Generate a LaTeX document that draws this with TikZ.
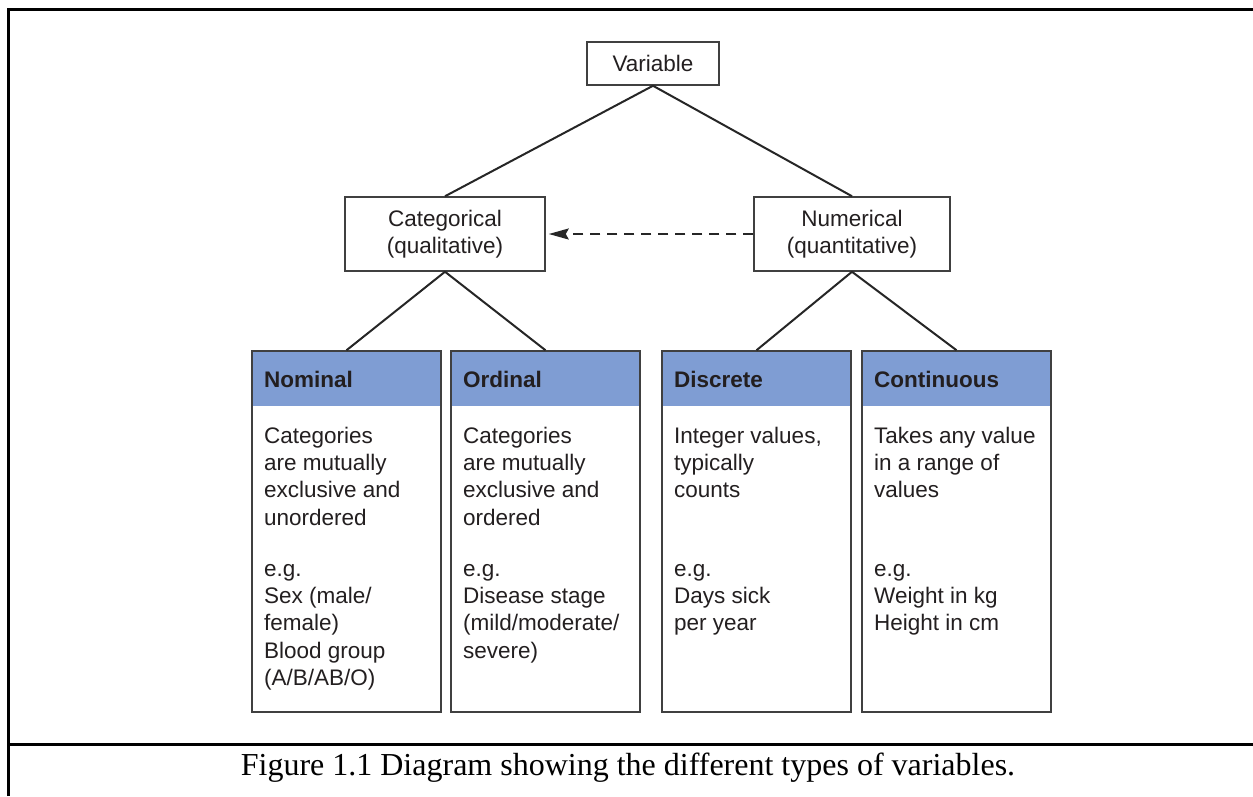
\documentclass[tikz,border=0pt]{standalone}
\usepackage{fontspec}
\setmainfont{Liberation Serif}
\setsansfont{Liberation Sans}
\usetikzlibrary{arrows.meta}
\definecolor{hdr}{RGB}{127,157,211}
\definecolor{ink}{RGB}{35,31,32}
\definecolor{edgegray}{RGB}{64,64,64}
\newcommand{\linesT}[1]{\begin{tabular}[t]{@{}l@{}}#1\end{tabular}}
\begin{document}
\begin{tikzpicture}[x=1pt,y=-1pt,
  box/.style={draw=edgegray,line width=1.5pt,fill=white,inner sep=0pt,
    font=\sffamily\fontsize{22.5}{27.4}\selectfont,text=ink,align=center},
  typebox/.style={box,minimum width=189pt,minimum height=361pt,
    path picture={\fill[hdr] (path picture bounding box.north west) rectangle
      ([yshift=-55pt]path picture bounding box.north east);}},
  headtext/.style={anchor=base west,inner sep=0pt,text=ink,
    font=\sffamily\bfseries\fontsize{22.5}{27.4}\selectfont},
  bodytext/.style={anchor=base west,inner sep=0pt,text=ink,
    font=\sffamily\fontsize{22.5}{27.4}\selectfont},
  conn/.style={draw=black!85,line width=2pt},
  frameline/.style={draw=black,line width=3pt}]
\useasboundingbox (0,0) rectangle (1253,796);
% frame
\draw[frameline] (8.5,796) -- (8.5,8);
\draw[frameline] (7,9.5) -- (1253,9.5);
\draw[frameline] (7,744.5) -- (1253,744.5);
% top boxes
\node[box,minimum width=132pt,minimum height=43pt] (var) at (653,63.5) {Variable};
\node[box,minimum width=200pt,minimum height=74pt] (cat) at (445,234) {Categorical\\[-0.6pt](qualitative)};
\node[box,minimum width=196pt,minimum height=74pt] (num) at (852,234) {Numerical\\[-0.6pt](quantitative)};
% type boxes
\node[typebox] (nom) at (346.5,531.5) {};
\node[typebox] (ord) at (545.5,531.5) {};
\node[typebox] (dis) at (756.5,531.5) {};
\node[typebox] (con) at (956.5,531.5) {};
% headers
\node[headtext] (nomH) at (264,387) {Nominal};
\node[headtext] (ordH) at (463,387) {Ordinal};
\node[headtext] (disH) at (674,387) {Discrete};
\node[headtext] (conH) at (874,387) {Continuous};
% descriptions
\node[bodytext] (nomA) at (264,443) {\linesT{Categories\\are mutually\\exclusive and\\unordered}};
\node[bodytext] (ordA) at (463,443) {\linesT{Categories\\are mutually\\exclusive and\\ordered}};
\node[bodytext] (disA) at (674,443) {\linesT{Integer values,\\typically\\counts}};
\node[bodytext] (conA) at (874,443) {\linesT{Takes any value\\in a range of\\values}};
% examples
\node[bodytext] (nomB) at (264,576) {\linesT{e.g.\\Sex (male/\\female)\\Blood group\\(A/B/AB/O)}};
\node[bodytext] (ordB) at (463,576) {\linesT{e.g.\\Disease stage\\(mild/moderate/\\severe)}};
\node[bodytext] (disB) at (674,576) {\linesT{e.g.\\Days sick\\per year}};
\node[bodytext] (conB) at (874,576) {\linesT{e.g.\\Weight in kg\\Height in cm}};
% connectors
\draw[conn] (var.south) -- (cat.north);
\draw[conn] (var.south) -- (num.north);
\draw[conn] (cat.south) -- (nom.north);
\draw[conn] (cat.south) -- (ord.north);
\draw[conn] (num.south) -- (dis.north);
\draw[conn] (num.south) -- (con.north);
\draw[conn,dash pattern=on 10pt off 7pt,shorten >=3pt,-{Stealth[length=20pt,width=11pt,inset=3pt]}] (num.west) -- (cat.east);
% caption
\node[anchor=base,inner sep=0pt,font=\rmfamily\fontsize{32}{38}\selectfont] (cap) at (628,775) {Figure 1.1 Diagram showing the different types of variables.};
\end{tikzpicture}
\end{document}
